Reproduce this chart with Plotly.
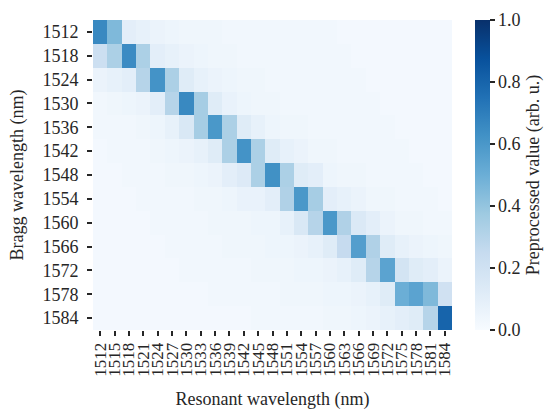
import plotly.graph_objects as go

# Axis categories (nm)
resonant_nm = [1512 + 3 * i for i in range(25)]
bragg_nm = [1512 + 6 * i for i in range(13)]

# Preprocessed response, one row per Bragg wavelength
row_1512 = [0.66, 0.45, 0.10, 0.08, 0.06, 0.05, 0.04, 0.04, 0.04, 0.03, 0.03, 0.03, 0.03, 0.03, 0.03, 0.03, 0.03, 0.02, 0.02, 0.02, 0.02, 0.02, 0.02, 0.02, 0.02]
row_1518 = [0.22, 0.33, 0.65, 0.33, 0.10, 0.08, 0.06, 0.05, 0.04, 0.04, 0.03, 0.03, 0.03, 0.03, 0.03, 0.03, 0.03, 0.03, 0.02, 0.02, 0.02, 0.02, 0.02, 0.02, 0.02]
row_1524 = [0.06, 0.08, 0.10, 0.30, 0.62, 0.33, 0.12, 0.08, 0.06, 0.05, 0.04, 0.04, 0.03, 0.03, 0.03, 0.03, 0.03, 0.03, 0.03, 0.02, 0.02, 0.02, 0.02, 0.02, 0.02]
row_1530 = [0.03, 0.04, 0.05, 0.06, 0.10, 0.30, 0.66, 0.35, 0.12, 0.07, 0.05, 0.04, 0.04, 0.03, 0.03, 0.03, 0.03, 0.03, 0.03, 0.03, 0.02, 0.02, 0.02, 0.02, 0.02]
row_1536 = [0.03, 0.03, 0.03, 0.04, 0.05, 0.08, 0.15, 0.35, 0.60, 0.33, 0.12, 0.08, 0.05, 0.04, 0.04, 0.03, 0.03, 0.03, 0.03, 0.03, 0.03, 0.02, 0.02, 0.02, 0.02]
row_1542 = [0.02, 0.03, 0.03, 0.03, 0.04, 0.05, 0.06, 0.08, 0.12, 0.33, 0.62, 0.33, 0.12, 0.08, 0.06, 0.04, 0.04, 0.03, 0.03, 0.03, 0.03, 0.03, 0.02, 0.02, 0.02]
row_1548 = [0.02, 0.02, 0.03, 0.03, 0.03, 0.04, 0.04, 0.05, 0.06, 0.10, 0.13, 0.33, 0.63, 0.33, 0.12, 0.10, 0.05, 0.04, 0.04, 0.03, 0.03, 0.03, 0.03, 0.02, 0.02]
row_1554 = [0.02, 0.02, 0.02, 0.03, 0.03, 0.03, 0.03, 0.04, 0.04, 0.05, 0.07, 0.07, 0.10, 0.32, 0.60, 0.35, 0.10, 0.08, 0.06, 0.04, 0.04, 0.03, 0.03, 0.03, 0.02]
row_1560 = [0.02, 0.02, 0.02, 0.02, 0.03, 0.03, 0.03, 0.03, 0.04, 0.04, 0.04, 0.05, 0.05, 0.08, 0.15, 0.30, 0.60, 0.32, 0.14, 0.10, 0.06, 0.04, 0.04, 0.03, 0.03]
row_1566 = [0.02, 0.02, 0.02, 0.02, 0.02, 0.03, 0.03, 0.03, 0.03, 0.04, 0.04, 0.04, 0.05, 0.05, 0.06, 0.08, 0.12, 0.25, 0.57, 0.32, 0.12, 0.08, 0.06, 0.05, 0.04]
row_1572 = [0.02, 0.02, 0.02, 0.02, 0.02, 0.02, 0.03, 0.03, 0.03, 0.03, 0.03, 0.04, 0.04, 0.04, 0.05, 0.05, 0.06, 0.08, 0.12, 0.30, 0.55, 0.18, 0.12, 0.10, 0.06]
row_1578 = [0.02, 0.02, 0.02, 0.02, 0.02, 0.02, 0.02, 0.02, 0.03, 0.03, 0.03, 0.03, 0.03, 0.04, 0.04, 0.04, 0.05, 0.05, 0.06, 0.08, 0.12, 0.50, 0.55, 0.45, 0.20]
row_1584 = [0.02, 0.02, 0.02, 0.02, 0.02, 0.02, 0.02, 0.02, 0.02, 0.02, 0.02, 0.03, 0.03, 0.03, 0.03, 0.03, 0.04, 0.04, 0.05, 0.06, 0.08, 0.10, 0.12, 0.30, 0.80]

values = [row_1512, row_1518, row_1524, row_1530, row_1536, row_1542, row_1548,
          row_1554, row_1560, row_1566, row_1572, row_1578, row_1584]

cbar_ticks = [0.0, 0.2, 0.4, 0.6, 0.8, 1.0]

# matplotlib "Blues"
blues = [
    [0.0, "#f7fbff"], [0.125, "#deebf7"], [0.25, "#c6dbef"], [0.375, "#9ecae1"],
    [0.5, "#6baed6"], [0.625, "#4292c6"], [0.75, "#2171b5"], [0.875, "#08519c"],
    [1.0, "#08306b"],
]

FONT = "Liberation Serif"
TXT = "#262626"

W, H = 554, 410
L, R, T, B = 93, 102, 20, 80
plot_w = W - L - R

fig = go.Figure(
    go.Heatmap(
        x=resonant_nm,
        y=bragg_nm,
        z=values,
        zmin=0,
        zmax=1,
        colorscale=blues,
        colorbar=dict(
            x=1 + (475 - (W - R)) / plot_w,
            xanchor="left",
            xpad=0,
            y=0.5,
            yanchor="middle",
            len=1,
            lenmode="fraction",
            ypad=0,
            thickness=15,
            outlinewidth=0,
            tickvals=cbar_ticks,
            ticktext=[f"{v:.1f}" for v in cbar_ticks],
            ticks="outside",
            ticklen=5,
            tickwidth=1.5,
            tickcolor=TXT,
            tickfont=dict(family=FONT, size=18, color=TXT),
            title=dict(
                text="Preprocessed value (arb. u.)",
                side="right",
                font=dict(family=FONT, size=18, color=TXT),
            ),
        ),
        hoverongaps=False,
    )
)

fig.update_xaxes(
    tickmode="array",
    tickvals=resonant_nm,
    ticktext=[str(v) for v in resonant_nm],
    tickangle=-90,
    ticks="outside",
    ticklen=5,
    tickwidth=1.5,
    tickcolor=TXT,
    tickfont=dict(family=FONT, size=17, color=TXT),
    showgrid=False,
    zeroline=False,
    showline=False,
    range=[1510.5, 1585.5],
    title=dict(text="Resonant wavelength (nm)",
               font=dict(family=FONT, size=18, color=TXT), standoff=18),
)
fig.update_yaxes(
    tickmode="array",
    tickvals=bragg_nm,
    ticktext=[str(v) for v in bragg_nm],
    ticks="outside",
    ticklen=5,
    tickwidth=1.5,
    tickcolor=TXT,
    ticklabelstandoff=5,
    tickfont=dict(family=FONT, size=18, color=TXT),
    showgrid=False,
    zeroline=False,
    showline=False,
    range=[1587, 1509],
    title=dict(text="Bragg wavelength (nm)",
               font=dict(family=FONT, size=18, color=TXT), standoff=14),
)

fig.update_layout(
    width=W,
    height=H,
    margin=dict(l=L, r=R, t=T, b=B, autoexpand=False),
    paper_bgcolor="white",
    plot_bgcolor="white",
    font=dict(family=FONT, color=TXT),
)

fig.write_html("out.html")
